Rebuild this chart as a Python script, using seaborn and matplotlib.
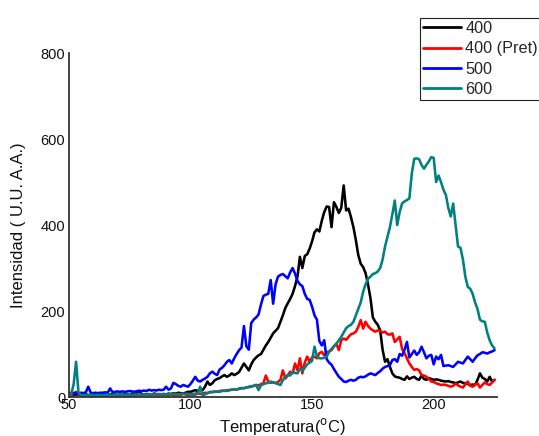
import matplotlib
matplotlib.use("Agg")
import matplotlib.pyplot as plt
import pandas as pd
import seaborn as sns
from matplotlib.lines import Line2D
from matplotlib.ticker import MultipleLocator

# ---------------- data ----------------
temperature = list(range(50, 226))

s400 = [5, 4, 5, 6, 5, 4, 5, 6, 5, 4,
        5, 6, 5, 4, 5, 6, 5, 6, 7, 6,
        5, 6, 5, 7, 6, 5, 8, 6, 9, 15,
        6, 6, 7, 6, 5, 8, 7, 6, 5, 7,
        6, 8, 7, 9, 8, 10, 9, 8, 10, 12,
        12, 14, 16, 14, 18, 16, 24, 36, 28, 32,
        39, 42, 44, 48, 51, 47, 50, 55, 51, 54,
        58, 68, 78, 70, 62, 76, 86, 92, 97, 100,
        110, 120, 128, 138, 148, 154, 160, 175, 190, 207,
        218, 228, 240, 258, 280, 326, 300, 328, 332, 345,
        362, 383, 390, 385, 410, 430, 443, 442, 395, 453,
        442, 428, 440, 492, 434, 438, 418, 395, 365, 330,
        310, 302, 288, 262, 230, 185, 175, 168, 155, 110,
        82, 88, 70, 55, 48, 46, 45, 42, 40, 48,
        42, 45, 47, 42, 40, 50, 42, 40, 44, 42,
        40, 41, 40, 38, 37, 36, 37, 35, 34, 32,
        34, 36, 33, 32, 30, 28, 29, 28, 40, 55,
        45, 42, 36, 47, 36, 40]

s400_pret = [3, 5, 8, 12, 6, 4, 3, 4, 3, 2,
             3, 2, 3, 4, 3, 2, 3, 4, 3, 3,
             2, 3, 4, 3, 2, 3, 4, 3, 4, 5,
             4, 5, 6, 5, 4, 8, 5, 4, 5, 6,
             5, 4, 6, 5, 4, 6, 5, 7, 6, 5,
             6, 5, 8, 9, 7, 8, 10, 9, 11, 12,
             13, 12, 14, 15, 14, 16, 16, 17, 18, 17,
             19, 20, 21, 22, 23, 24, 26, 28, 27, 30,
             32, 50, 36, 33, 34, 32, 35, 40, 62, 43,
             50, 59, 55, 78, 62, 90, 55, 80, 94, 82,
             92, 94, 90, 102, 105, 97, 104, 106, 109, 118,
             124, 109, 132, 136, 133, 140, 146, 148, 152, 163,
             179, 159, 175, 165, 159, 155, 152, 155, 154, 150,
             152, 146, 145, 148, 128, 134, 140, 112, 102, 90,
             78, 70, 63, 65, 62, 51, 50, 47, 42, 36,
             35, 32, 30, 28, 29, 28, 26, 24, 26, 31,
             27, 24, 22, 30, 36, 26, 24, 28, 32, 22,
             28, 34, 30, 28, 34, 40]

s500 = [8, 10, 9, 10, 8, 10, 9, 11, 24, 10,
        9, 10, 9, 10, 10, 11, 10, 20, 11, 12,
        13, 12, 13, 12, 13, 14, 13, 12, 14, 13,
        14, 15, 14, 17, 15, 16, 15, 17, 16, 17,
        24, 17, 20, 33, 30, 26, 24, 28, 26, 24,
        30, 38, 47, 38, 36, 40, 43, 47, 55, 59,
        54, 51, 64, 68, 74, 82, 86, 78, 90, 100,
        109, 115, 165, 118, 110, 172, 180, 185, 192, 215,
        235, 238, 240, 272, 217, 262, 280, 284, 286, 281,
        276, 290, 300, 287, 270, 262, 258, 240, 228, 226,
        210, 190, 180, 130, 120, 132, 88, 80, 75, 65,
        56, 47, 42, 36, 35, 38, 40, 38, 40, 45,
        47, 46, 48, 52, 55, 53, 51, 56, 60, 66,
        70, 72, 74, 86, 88, 82, 100, 96, 110, 128,
        92, 100, 108, 98, 104, 117, 104, 90, 96, 98,
        76, 94, 88, 98, 72, 73, 74, 72, 70, 76,
        82, 80, 78, 86, 94, 88, 82, 90, 97, 100,
        104, 103, 101, 104, 106, 109]

s600 = [5, 6, 30, 82, 10, 5, 4, 5, 4, 5,
        5, 4, 5, 5, 4, 5, 6, 5, 5, 6,
        5, 6, 5, 6, 5, 6, 5, 6, 6, 5,
        6, 5, 6, 7, 6, 5, 6, 7, 6, 7,
        6, 7, 6, 8, 7, 6, 7, 8, 7, 8,
        6, 8, 5, 8, 24, 4, 6, 9, 12, 11,
        12, 13, 12, 14, 15, 14, 16, 17, 18, 17,
        20, 21, 20, 22, 24, 25, 26, 28, 16, 27,
        30, 32, 33, 36, 34, 33, 30, 28, 39, 48,
        51, 50, 59, 56, 55, 66, 62, 68, 76, 80,
        84, 117, 95, 90, 90, 91, 94, 105, 112, 118,
        124, 132, 140, 150, 160, 165, 168, 175, 190, 205,
        220, 245, 262, 275, 280, 286, 288, 292, 300, 320,
        350, 372, 395, 425, 457, 400, 430, 450, 455, 458,
        462, 520, 554, 555, 553, 540, 531, 540, 548, 558,
        556, 500, 515, 500, 482, 470, 440, 420, 450, 400,
        350, 347, 320, 280, 256, 252, 240, 220, 205, 180,
        176, 175, 150, 132, 120, 113]

series_names = ["400", "400 (Pret)", "500", "600"]
series_values = [s400, s400_pret, s500, s600]
colors = ["#000000", "#ff0000", "#0000ff", "#008080"]

x_ticks = [50, 100, 150, 200]
y_ticks = [0, 200, 400, 600, 800]

# ---------------- style ----------------
sns.set_theme(style="white")
plt.rcParams['font.family'] = ['Liberation Sans', 'DejaVu Sans']

frames = []
for name, vals in zip(series_names, series_values):
    frames.append(pd.DataFrame({"T": temperature, "I": vals, "serie": name}))
df = pd.concat(frames, ignore_index=True)

fig = plt.figure(figsize=(5.39, 4.36), dpi=100)
ax = fig.add_axes([0.1276, 0.0894, 0.7944, 0.789])

sns.lineplot(data=df, x="T", y="I", hue="serie", hue_order=series_names,
             palette=colors, estimator=None, sort=False, linewidth=1.85,
             ax=ax, legend=False)

ax.set_xlim(50, 226)
ax.set_ylim(0, 800)
ax.set_xticks(x_ticks)
ax.set_yticks(y_ticks)
ax.xaxis.set_minor_locator(MultipleLocator(25))
ax.yaxis.set_minor_locator(MultipleLocator(100))

for side in ["top", "right"]:
    ax.spines[side].set_visible(False)
for side in ["left", "bottom"]:
    ax.spines[side].set_color("#333333")
    ax.spines[side].set_linewidth(1.3)

ax.tick_params(axis='y', which='major', direction='inout', length=5, width=1,
               color='#333333', pad=0, labelsize=10.5)
ax.tick_params(axis='y', which='minor', direction='inout', length=4, width=1,
               color='#333333')
ax.tick_params(axis='x', which='major', direction='in', length=4, width=1,
               color='#333333', pad=1, labelsize=10.5)
ax.tick_params(axis='x', which='minor', direction='in', length=4, width=1,
               color='#333333')
for lab in ax.get_xticklabels() + ax.get_yticklabels():
    lab.set_color('#111111')

ax.set_xlabel("Temperatura($^{\\rm o}$C)", fontsize=12, color='#111111')
ax.set_ylabel("Intensidad ( U.U. A.A.)", fontsize=12, color='#111111')
ax.xaxis.set_label_coords(0.5, -0.055)
ax.yaxis.set_label_coords(-0.1, 0.5)

handles = [Line2D([0], [0], color=c, lw=2.0) for c in colors]
leg = fig.legend(handles, series_names, loc='upper left',
                 bbox_to_anchor=(0.779, 0.959), fontsize=11.7,
                 frameon=True, fancybox=False, framealpha=1,
                 edgecolor='#222222', handlelength=2.3, handletextpad=0.3,
                 labelspacing=0.32, borderpad=0.2, borderaxespad=0)
leg.get_frame().set_linewidth(0.8)

fig.savefig("out.png", dpi=100)
